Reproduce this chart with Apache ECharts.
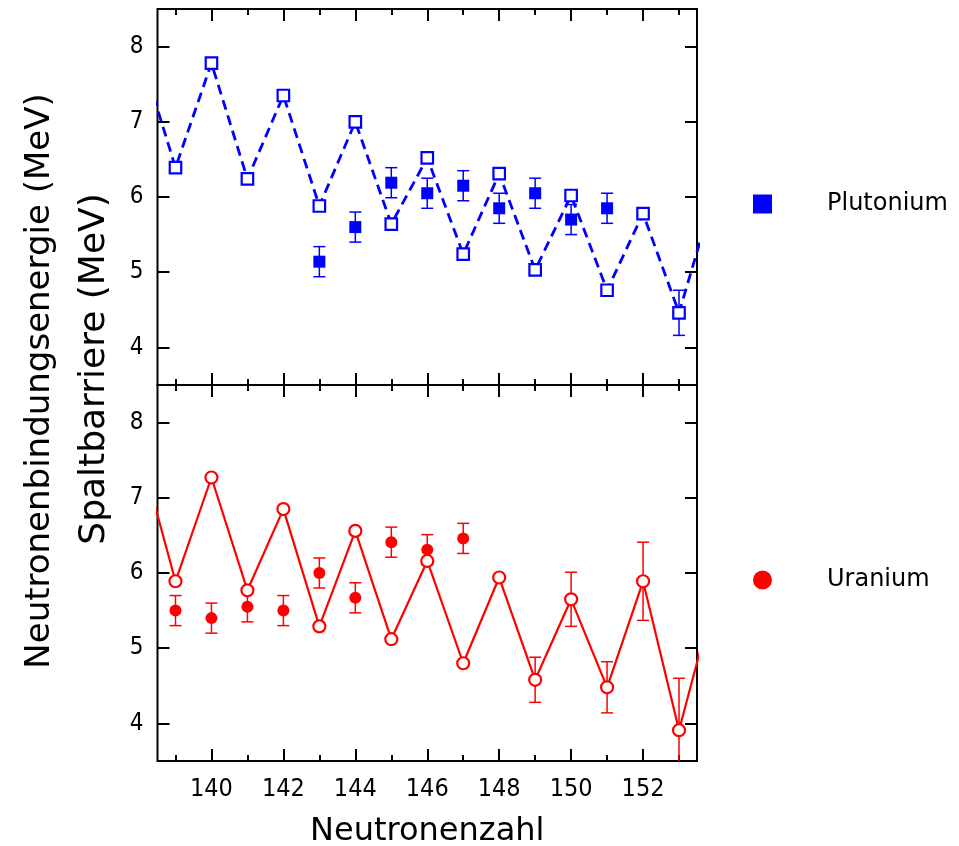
<!DOCTYPE html>
<html>
<head>
<meta charset="utf-8">
<script src="https://cdn.jsdelivr.net/npm/echarts@6/dist/echarts.min.js"></script>
<style>
html,body{margin:0;padding:0;background:#fff;}
#chart{width:959px;height:846px;}
</style>
</head>
<body>
<div id="chart"></div>
<script>
// ---------- data ----------
const neutrons = [138,139,140,141,142,143,144,145,146,147,148,149,150,151,152,153,154];
const puBinding = [7.95,6.39,7.78,6.24,7.35,5.88,7.00,5.64,6.52,5.24,6.31,5.03,6.02,4.76,5.78,4.46,6.08];
const puBindingErrN = [153];
const puBindingErr = [0.30];
const puBarrierN = [143,144,145,146,147,148,149,150,151];
const puBarrier = [5.14,5.60,6.19,6.05,6.15,5.85,6.05,5.70,5.85];
const puBarrierErr = [0.20,0.20,0.20,0.20,0.20,0.20,0.20,0.20,0.20];

const uBinding = [7.65,5.89,7.27,5.77,6.85,5.29,6.56,5.12,6.16,4.80,5.94,4.58,5.65,4.48,5.89,3.91,5.71];
const uBindingErrN = [149,150,151,152,153];
const uBindingErr = [0.30,0.36,0.34,0.52,0.69];
const uBarrierN = [139,140,141,142,143,144,145,146,147];
const uBarrier = [5.50,5.40,5.55,5.50,6.00,5.67,6.41,6.31,6.46];
const uBarrierErr = [0.20,0.20,0.20,0.20,0.20,0.20,0.20,0.20,0.20];

const xMajorTicks = [140,142,144,146,148,150,152];
const xMinorTicks = [139,141,143,145,147,149,151,153];
const yTicks = [4,5,6,7,8];

// ---------- helpers ----------
const BLUE = '#0000ff', RED = '#ff0000';
const tickFont = '"DejaVu Sans Condensed", "Liberation Sans", sans-serif';
const titleFont = 'DejaVu Sans';

function zip(xs, ys){ return xs.map((x,i)=>[x, ys[i]]); }
function zip3(xs, ys, es){ return xs.map((x,i)=>[x, ys[i], es[i]]); }
function lookup(xs, ys, x){ return ys[xs.indexOf(x)]; }

function errData(errN, errV, baseN, baseV){
  return errN.map((n,i)=>[n, lookup(baseN, baseV, n), errV[i]]);
}

function errSeries(data, color, xi, yi){
  return {
    type:'custom', xAxisIndex:xi, yAxisIndex:yi, clip:true, z:1, silent:true,
    data: data,
    encode:{x:0, y:1},
    renderItem: function(params, api){
      const x = api.value(0), y = api.value(1), e = api.value(2);
      const t = api.coord([x, y + e]);
      const b = api.coord([x, y - e]);
      const w = 6;
      const st = {stroke:color, lineWidth:1.5};
      return {type:'group', children:[
        {type:'line', shape:{x1:t[0], y1:t[1], x2:b[0], y2:b[1]}, style:st},
        {type:'line', shape:{x1:t[0]-w, y1:t[1], x2:t[0]+w, y2:t[1]}, style:st},
        {type:'line', shape:{x1:b[0]-w, y1:b[1], x2:b[0]+w, y2:b[1]}, style:st}
      ]};
    }
  };
}

function xAx(grid, pos, ticks, len, withLabels){
  const a = {
    type:'value', gridIndex:grid, position:pos, min:138.5, max:153.5,
    axisLine:{show:false},
    splitLine:{show:false},
    axisTick:{show:true, inside:true, length:len, customValues:ticks, lineStyle:{color:'#000', width:2}},
    axisLabel:{show:false}
  };
  if (withLabels){
    a.axisLabel = {show:true, customValues:xMajorTicks, color:'#000', fontFamily:tickFont, fontSize:25, margin:16};
    a.name = 'Neutronenzahl';
    a.nameLocation = 'middle';
    a.nameGap = 55;
    a.nameTextStyle = {color:'#000', fontFamily:titleFont, fontSize:32};
  }
  return a;
}

function yAx(grid, pos, withLabels){
  return {
    type:'value', gridIndex:grid, position:pos, min:3.5, max:8.5,
    axisLine:{show:false},
    splitLine:{show:false},
    axisTick:{show:true, inside:true, length:12, customValues:yTicks, lineStyle:{color:'#000', width:2}},
    axisLabel: withLabels ? {show:true, customValues:yTicks, color:'#000', fontFamily:tickFont, fontSize:24, margin:14} : {show:false}
  };
}

const chart = echarts.init(document.getElementById('chart'), null, {renderer:'canvas'});

const option = {
  animation:false,
  backgroundColor:'#fff',
  grid:[
    {left:157.5, top:9, width:539.5, height:376, show:true, borderColor:'#000', borderWidth:2, backgroundColor:'transparent', containLabel:false, outerBoundsMode:'none'},
    {left:157.5, top:385, width:539.5, height:376, show:true, borderColor:'#000', borderWidth:2, backgroundColor:'transparent', containLabel:false, outerBoundsMode:'none'}
  ],
  xAxis:[
    xAx(0,'bottom',xMajorTicks,12,false),
    xAx(0,'bottom',xMinorTicks,6,false),
    xAx(0,'top',xMajorTicks,12,false),
    xAx(0,'top',xMinorTicks,6,false),
    xAx(1,'bottom',xMajorTicks,12,true),
    xAx(1,'bottom',xMinorTicks,6,false),
    xAx(1,'top',xMajorTicks,12,false),
    xAx(1,'top',xMinorTicks,6,false)
  ],
  yAxis:[
    yAx(0,'left',true),
    yAx(0,'right',false),
    yAx(1,'left',true),
    yAx(1,'right',false)
  ],
  legend:[
    {data:[{name:'Plutonium', icon:'rect'}], left:753, top:192, padding:0, itemWidth:19, itemHeight:19,
     selectedMode:false, textStyle:{color:'#000', fontFamily:titleFont, fontSize:24, padding:[0,0,0,50]}},
    {data:[{name:'Uranium', icon:'circle'}], left:753, top:568, padding:0, itemWidth:19, itemHeight:19,
     selectedMode:false, textStyle:{color:'#000', fontFamily:titleFont, fontSize:24, padding:[0,0,0,50]}}
  ],
  graphic:[
    {type:'text', x:40, y:381, rotation:Math.PI/2, silent:true,
     style:{text:'Neutronenbindungsenergie (MeV)', fill:'#000', font:'34px "DejaVu Sans"', align:'center', verticalAlign:'middle'}},
    {type:'text', x:95, y:369, rotation:Math.PI/2, silent:true,
     style:{text:'Spaltbarriere (MeV)', fill:'#000', font:'36px "DejaVu Sans"', align:'center', verticalAlign:'middle'}}
  ],
  series:[
    errSeries(errData(puBindingErrN, puBindingErr, neutrons, puBinding), BLUE, 0, 0),
    errSeries(zip3(puBarrierN, puBarrier, puBarrierErr), BLUE, 0, 0),
    {
      name:'Pu Bindungsenergie', type:'line', xAxisIndex:0, yAxisIndex:0, z:2, clip:true,
      data: zip(neutrons, puBinding),
      symbol:'rect', symbolSize:11.5, showAllSymbol:true,
      lineStyle:{color:BLUE, width:2.8, type:[10,6]},
      itemStyle:{color:'#fff', borderColor:BLUE, borderWidth:2.2, opacity:1}
    },
    {
      name:'Plutonium', type:'scatter', xAxisIndex:0, yAxisIndex:0, z:3,
      data: zip(puBarrierN, puBarrier),
      symbol:'rect', symbolSize:12,
      itemStyle:{color:BLUE, opacity:1}
    },
    errSeries(errData(uBindingErrN, uBindingErr, neutrons, uBinding), RED, 4, 2),
    errSeries(zip3(uBarrierN, uBarrier, uBarrierErr), RED, 4, 2),
    {
      name:'U Bindungsenergie', type:'line', xAxisIndex:4, yAxisIndex:2, z:2, clip:true,
      data: zip(neutrons, uBinding),
      symbol:'circle', symbolSize:12, showAllSymbol:true,
      lineStyle:{color:RED, width:2.2},
      itemStyle:{color:'#fff', borderColor:RED, borderWidth:2.2, opacity:1}
    },
    {
      name:'Uranium', type:'scatter', xAxisIndex:4, yAxisIndex:2, z:3,
      data: zip(uBarrierN, uBarrier),
      symbol:'circle', symbolSize:12,
      itemStyle:{color:RED, opacity:1}
    }
  ]
};
chart.setOption(option);
</script>
</body>
</html>
